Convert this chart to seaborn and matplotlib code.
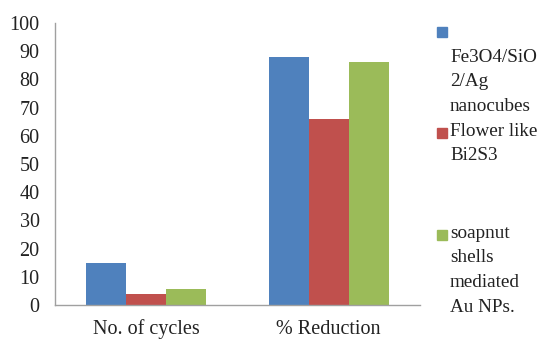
import numpy as np
import pandas as pd
import matplotlib.pyplot as plt
import seaborn as sns
from matplotlib.patches import Rectangle

# data
categories = ["No. of cycles", "% Reduction"]
series = ["Fe3O4/SiO2/Ag nanocubes", "Flower like Bi2S3", "soapnut shells mediated Au NPs."]
fe3o4 = [15, 88]
bi2s3 = [4, 66]
soapnut = [5.5, 86]
legend_labels = [["Fe3O4/SiO", "2/Ag", "nanocubes"], ["Flower like", "Bi2S3"],
                 ["soapnut", "shells", "mediated", "Au NPs."]]
colors = ["#4F81BD", "#C0504D", "#9BBB59"]

df = pd.DataFrame({
    "category": categories * 3,
    "series": np.repeat(series, 2),
    "value": fe3o4 + bi2s3 + soapnut,
})

sns.set_style("white")
plt.rcParams["font.family"] = ["Liberation Serif", "DejaVu Serif"]

W, H = 542, 340
fig = plt.figure(figsize=(W / 100, H / 100), dpi=100)
ax = fig.add_axes([55 / W, 35 / H, 365 / W, 282 / H])

sns.barplot(data=df, x="category", y="value", hue="series", order=categories,
            hue_order=series, palette=colors, width=0.66, gap=0, linewidth=0,
            saturation=1, legend=False, ax=ax)

ax.set_ylim(0, 100)
ax.set_yticks(range(0, 101, 10))
ax.set_xlabel("")
ax.set_ylabel("")
ax.tick_params(axis="both", length=0, labelsize=14.5, colors="#222222")
ax.tick_params(axis="y", pad=11)
ax.tick_params(axis="x", pad=10.5)
for s in ["top", "right"]:
    ax.spines[s].set_visible(False)
for s in ["left", "bottom"]:
    ax.spines[s].set_color("#A0A0A0")
    ax.spines[s].set_linewidth(1)

# legend, Excel-style wrapping (square top in px, first baseline in px)
squares = [27, 128, 230]
baselines = [62, 136, 238]
step = 24.5
for col, sq, bl, lines in zip(colors, squares, baselines, legend_labels):
    fig.patches.append(Rectangle((437 / W, 1 - (sq + 10) / H), 10 / W, 10 / H,
                                 transform=fig.transFigure, color=col))
    for i, line in enumerate(lines):
        fig.text(450 / W, 1 - (bl + i * step) / H, line, fontsize=13.8,
                 va="baseline", ha="left", color="#222222")

plt.savefig("out.png", dpi=100)
